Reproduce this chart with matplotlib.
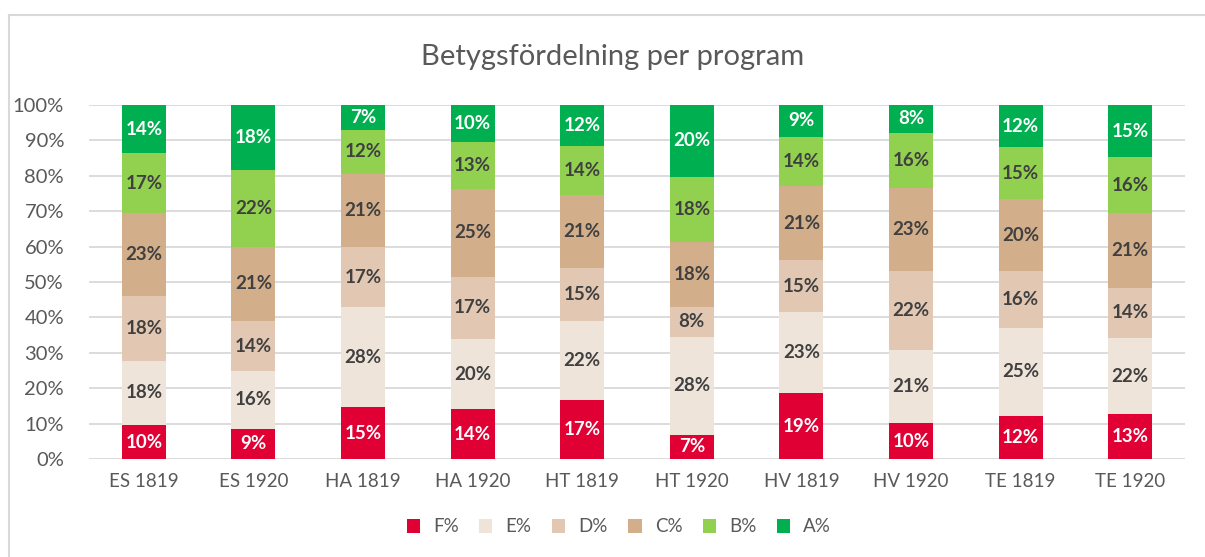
import matplotlib
matplotlib.use("Agg")
import matplotlib.pyplot as plt
from matplotlib.lines import Line2D
import numpy as np

categories = ["ES 1819", "ES 1920", "HA 1819", "HA 1920", "HT 1819",
              "HT 1920", "HV 1819", "HV 1920", "TE 1819", "TE 1920"]
series_names = ["F%", "E%", "D%", "C%", "B%", "A%"]
F = [9.6, 8.6, 14.6, 14.0, 16.7, 6.8, 18.6, 10.1, 12.1, 12.6]
E = [18.1, 16.2, 28.4, 20.0, 22.4, 27.8, 22.9, 20.7, 25.0, 21.5]
D = [18.3, 14.2, 16.8, 17.4, 14.9, 8.3, 14.7, 22.3, 16.0, 14.3]
C = [23.4, 20.9, 20.8, 24.9, 20.6, 18.4, 20.8, 23.4, 20.3, 21.2]
B = [17.0, 21.8, 12.3, 13.3, 13.8, 18.4, 14.1, 15.7, 14.6, 15.6]
A = [13.6, 18.3, 7.1, 10.4, 11.6, 20.3, 8.9, 7.8, 12.0, 14.8]
series = [F, E, D, C, B, A]

colors = ["#E00034", "#EFE4DA", "#E2C8B3", "#D2AE8B", "#92D050", "#00B050"]
label_colors = ["white", "#404040", "#404040", "#404040", "#404040", "white"]

plt.rcParams['font.family'] = ['Lato', 'DejaVu Sans']

W, H = 1205, 557
fig = plt.figure(figsize=(W / 100, H / 100), dpi=100)
ax = fig.add_axes([89 / W, 1 - 459 / H, (1185 - 89) / W, (459 - 105) / H])

x = np.arange(len(categories))
bottom = np.zeros(len(categories))
handles = []
for name, vals, col, lc in zip(series_names, series, colors, label_colors):
    v = np.array(vals) / 100.0
    bars = ax.bar(x, v, width=0.40, bottom=bottom, color=col, zorder=3, label=name)
    for xi, b, h, raw in zip(x, bottom, v, vals):
        ax.text(xi, b + h / 2, f"{int(np.floor(raw + 0.5))}%", ha="center", va="center",
                fontsize=13.5, fontweight="bold", color=lc, zorder=4)
    bottom = bottom + v
    handles.append(bars)

ax.set_xlim(-0.5, len(categories) - 0.5)
ax.set_ylim(0, 1.0)
ticks = np.arange(0, 1.01, 0.1)
ax.set_yticks(ticks)
ax.set_yticklabels([f"{int(round(t * 100))}%" for t in ticks])
ax.set_xticks(x)
ax.set_xticklabels(categories)
ax.tick_params(axis="both", length=0, colors="#595959")
ax.tick_params(axis="x", labelsize=13.5, pad=10)
ax.tick_params(axis="y", labelsize=14.5, pad=18)
ax.yaxis.grid(True, color="#D9D9D9", linewidth=1.3, zorder=0)
for s in ax.spines.values():
    s.set_visible(False)

fig.text(613 / W, 1 - 57 / H, "Betygsfördelning per program", ha="center", va="center",
         fontsize=21, color="#595959")

leg = fig.legend(handles=handles, labels=series_names, loc="center",
                 bbox_to_anchor=(619 / W, 1 - 527 / H), ncol=6, frameon=False,
                 fontsize=13.5, handlelength=0.7, handleheight=0.7,
                 columnspacing=1.1, handletextpad=0.7)
for t in leg.get_texts():
    t.set_color("#595959")

# chart border (left and top)
fig.add_artist(Line2D([9 / W, 9 / W], [0, 1 - 15 / H], transform=fig.transFigure,
                      color="#D9D9D9", linewidth=1.5))
fig.add_artist(Line2D([9 / W, 1], [1 - 15 / H, 1 - 15 / H], transform=fig.transFigure,
                      color="#D9D9D9", linewidth=1.5))

fig.savefig("out.png", dpi=100, facecolor="white")
